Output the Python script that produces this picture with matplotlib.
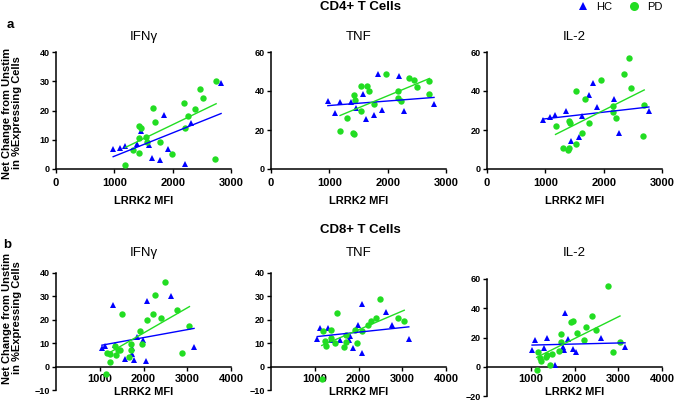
import numpy as np
import matplotlib
matplotlib.use("Agg")
import matplotlib.pyplot as plt
from matplotlib.lines import Line2D

plt.rcParams['font.family'] = ['Liberation Sans', 'DejaVu Sans']

# ---------------- data ----------------
# CD4+ IFNg
cd4_ifng_hc_x = [980, 1100, 1190, 1385, 1460, 1600, 1650, 1780, 1855, 1925, 2210, 2310, 2830]
cd4_ifng_hc_y = [7.0, 7.3, 7.9, 8.7, 12.9, 8.1, 3.6, 3.2, 18.5, 6.8, 1.6, 15.8, 29.4]
cd4_ifng_pd_x = [1190, 1325, 1425, 1455, 1430, 1420, 1540, 1560, 1665, 1700, 1790, 1990, 2200, 2205, 2260, 2390, 2470, 2515, 2745, 2725]
cd4_ifng_pd_y = [1.3, 6.5, 14.6, 14.0, 10.6, 5.4, 10.9, 9.2, 20.7, 16.2, 9.1, 5.0, 22.6, 14.1, 18.0, 20.6, 27.4, 24.4, 30.0, 3.4]
# CD4+ TNF
cd4_tnf_hc_x = [975, 1105, 1185, 1375, 1450, 1585, 1620, 1760, 1840, 1910, 2190, 2275, 2795]
cd4_tnf_hc_y = [34.7, 28.7, 34.4, 34.4, 31.5, 38.3, 25.6, 27.5, 48.5, 30.1, 47.5, 29.7, 33.3]
cd4_tnf_pd_x = [1185, 1310, 1415, 1410, 1430, 1445, 1535, 1540, 1645, 1685, 1770, 1965, 2170, 2185, 2235, 2360, 2450, 2500, 2700, 2715]
cd4_tnf_pd_y = [19.7, 26.0, 38.1, 18.3, 17.8, 35.6, 42.4, 29.6, 42.7, 40.0, 33.3, 48.5, 40.0, 36.4, 34.9, 46.8, 45.8, 42.2, 38.6, 45.1]
# CD4+ IL-2
cd4_il2_hc_x = [960, 1075, 1170, 1360, 1440, 1575, 1625, 1750, 1825, 1890, 2170, 2270, 2775]
cd4_il2_hc_y = [25.1, 26.8, 27.5, 29.9, 14.4, 16.4, 27.4, 37.9, 43.9, 31.6, 36.1, 18.3, 29.7]
cd4_il2_pd_x = [1175, 1305, 1405, 1430, 1405, 1395, 1520, 1530, 1630, 1675, 1755, 1955, 2160, 2160, 2210, 2345, 2430, 2475, 2680, 2695]
cd4_il2_pd_y = [21.9, 10.9, 24.8, 23.8, 10.6, 9.6, 40.2, 12.8, 18.3, 35.9, 23.4, 45.5, 32.1, 29.2, 26.2, 48.5, 57.1, 41.7, 16.9, 32.8]
# CD8+ IFNg
cd8_ifng_hc_x = [1050, 1110, 1310, 1355, 1570, 1745, 1745, 1785, 1860, 1995, 2055, 2090, 2620, 3155]
cd8_ifng_hc_y = [7.8, 8.9, 26.4, 9.2, 3.4, 8.1, 5.2, 2.8, 12.7, 11.4, 2.3, 28.1, 30.0, 8.5]
cd8_ifng_pd_x = [1145, 1160, 1235, 1240, 1350, 1365, 1410, 1465, 1500, 1670, 1705, 1715, 1920, 1975, 2070, 2225, 2270, 2400, 2500, 2765, 2890, 3050]
cd8_ifng_pd_y = [-3.3, 5.7, 5.5, 2.1, 9.0, 4.8, 7.3, 7.1, 22.3, 4.2, 9.5, 6.9, 15.3, 9.6, 20.1, 22.5, 30.7, 20.6, 36.2, 24.0, 5.8, 17.4]
# CD8+ TNF
cd8_tnf_hc_x = [1060, 1120, 1305, 1365, 1575, 1780, 1805, 1865, 1990, 2070, 2085, 2620, 2765, 3150]
cd8_tnf_hc_y = [11.8, 16.3, 16.6, 11.5, 11.2, 11.5, 13.0, 8.1, 17.6, 5.8, 26.8, 23.5, 17.6, 11.8]
cd8_tnf_pd_x = [1160, 1180, 1235, 1260, 1370, 1380, 1470, 1510, 1675, 1710, 1710, 1925, 1970, 2075, 2225, 2275, 2400, 2500, 2895, 3045]
cd8_tnf_pd_y = [-5.5, 15.2, 11.1, 8.9, 12.1, 15.6, 9.9, 22.7, 8.2, 13.6, 10.6, 15.7, 10.1, 15.2, 17.7, 19.6, 20.7, 28.8, 20.6, 19.7]
# CD8+ IL-2
cd8_il2_hc_x = [1030, 1105, 1295, 1370, 1555, 1730, 1760, 1775, 1850, 1975, 2035, 2615, 3155]
cd8_il2_hc_y = [11.5, 18.1, 13.1, 19.9, 1.1, 13.5, 11.5, 36.7, 19.0, 11.9, 10.3, 19.5, 13.7]
cd8_il2_pd_x = [1135, 1160, 1210, 1225, 1350, 1365, 1440, 1495, 1645, 1700, 1700, 1910, 1960, 2065, 2210, 2255, 2390, 2490, 2760, 2870, 3040]
cd8_il2_pd_y = [-2.5, 10.3, 5.7, 3.9, 6.9, 8.0, 1.1, 8.5, 10.8, 17.2, 22.7, 30.5, 31.2, 23.4, 18.3, 27.5, 35.0, 25.2, 55.0, 10.1, 16.7]

panel_titles = ["IFN\u03b3", "TNF", "IL-2"]
group_labels = ["HC", "PD"]
row_titles = ["CD4+ T Cells", "CD8+ T Cells"]
row_letters = ["a", "b"]
xlabel_text = "LRRK2 MFI"
ylabel_text = "Net Change from Unstim\nin %Expressing Cells"

top_xticks = [0, 1000, 2000, 3000]
bottom_xticks = [1000, 2000, 3000, 4000]
yticks_list = [[0, 10, 20, 30, 40], [0, 20, 40, 60], [0, 20, 40, 60],
               [-10, 0, 10, 20, 30, 40], [-10, 0, 10, 20, 30, 40], [-20, 0, 20, 40, 60]]

HC_COLOR = '#0000FF'
PD_COLOR = '#22DD22'

W, H = 675, 400
fig = plt.figure(figsize=(W / 100, H / 100), dpi=100)

def box(left, top, width, height):
    return [left / W, 1 - (top + height) / H, width / W, height / H]

lefts = [56, 271, 487]
panels = [
    (cd4_ifng_hc_x, cd4_ifng_hc_y, cd4_ifng_pd_x, cd4_ifng_pd_y),
    (cd4_tnf_hc_x, cd4_tnf_hc_y, cd4_tnf_pd_x, cd4_tnf_pd_y),
    (cd4_il2_hc_x, cd4_il2_hc_y, cd4_il2_pd_x, cd4_il2_pd_y),
    (cd8_ifng_hc_x, cd8_ifng_hc_y, cd8_ifng_pd_x, cd8_ifng_pd_y),
    (cd8_tnf_hc_x, cd8_tnf_hc_y, cd8_tnf_pd_x, cd8_tnf_pd_y),
    (cd8_il2_hc_x, cd8_il2_hc_y, cd8_il2_pd_x, cd8_il2_pd_y),
]
tops = [52, 52, 52, 273, 273, 279]

for i, (hx, hy, px, py) in enumerate(panels):
    row, col = divmod(i, 3)
    ax = fig.add_axes(box(lefts[col], tops[i], 175, 117))
    yt = yticks_list[i]
    ax.set_ylim(yt[0], yt[-1])
    for sp in ['top', 'right']:
        ax.spines[sp].set_visible(False)
    for sp in ['left', 'bottom']:
        ax.spines[sp].set_linewidth(1.1)
    ax.set_yticks(yt)
    if row == 0:
        ax.set_xlim(0, 3000)
        ax.set_xticks(top_xticks)
        ax.tick_params(axis='x', pad=3.5)
    else:
        ax.set_xlim(0, 4000)
        ax.spines['bottom'].set_position(('data', 0))
        ax.set_xticks(bottom_xticks)
        ax.tick_params(axis='x', pad=2.5)
    ax.tick_params(axis='both', direction='out', length=3, width=1.0)
    ax.tick_params(axis='y', pad=1.5)
    for lab in ax.get_xticklabels():
        lab.set_fontsize(8)
        lab.set_fontweight('bold')
    for lab in ax.get_yticklabels():
        lab.set_fontsize(6.5)
        lab.set_fontweight('bold')

    ax.plot(hx, hy, linestyle='none', marker='^', color=HC_COLOR, markersize=4.2,
            markeredgewidth=0, zorder=3, clip_on=False)
    ax.plot(px, py, linestyle='none', marker='o', color=PD_COLOR, markersize=4.6,
            markeredgewidth=0, zorder=4, clip_on=False)
    for xs, ys, c in [(hx, hy, HC_COLOR), (px, py, PD_COLOR)]:
        xs = np.asarray(xs, float)
        ys = np.asarray(ys, float)
        m, b = np.polyfit(xs, ys, 1)
        xx = np.array([xs.min(), xs.max()])
        ax.plot(xx, m * xx + b, color=c, linewidth=1.0, zorder=5)

    # titles
    if row == 0:
        ty = 1 + 15 / 117
    else:
        ty = 1 + (20 + (tops[i] - 273)) / 117
    ax.text(0.5, ty, panel_titles[col], transform=ax.transAxes, ha='center', va='center',
            fontsize=9.5)

    ax.set_xlabel(xlabel_text, fontsize=8, fontweight='bold')
    ax.xaxis.label.set_va('center')
    if row == 0:
        ax.xaxis.set_label_coords(0.5, -(201 - 169) / 117)
    else:
        ax.xaxis.set_label_coords(0.5, (tops[i] + 117 - 392) / 117)

# row titles and letters
fig.text(360 / W, 1 - 7 / H, row_titles[0], ha='center', va='center', fontsize=9.5, fontweight='bold')
fig.text(360 / W, 1 - 230 / H, row_titles[1], ha='center', va='center', fontsize=9.5, fontweight='bold')
fig.text(10 / W, 1 - 25 / H, row_letters[0], ha='center', va='center', fontsize=9.5, fontweight='bold')
fig.text(7 / W, 1 - 245 / H, row_letters[1], ha='center', va='center', fontsize=9.5, fontweight='bold')

# y labels
fig.text(12.5 / W, 1 - 113 / H, ylabel_text, rotation=90, ha='center', va='center',
         fontsize=8, fontweight='bold', multialignment='center', linespacing=1.0)
fig.text(12.5 / W, 1 - 318 / H, ylabel_text, rotation=90, ha='center', va='center',
         fontsize=8, fontweight='bold', multialignment='center', linespacing=1.0)

# legend
handles = [Line2D([], [], linestyle='none', marker='^', color=HC_COLOR, markersize=6, markeredgewidth=0),
           Line2D([], [], linestyle='none', marker='o', color=PD_COLOR, markersize=6.5, markeredgewidth=0)]
fig.legend(handles, group_labels, loc='center', bbox_to_anchor=(620 / W, 1 - 7 / H), ncol=2,
           frameon=False, fontsize=8, handlelength=1.0, handletextpad=0.7, columnspacing=1.4,
           borderpad=0, borderaxespad=0)

fig.savefig("out.png", dpi=100)
